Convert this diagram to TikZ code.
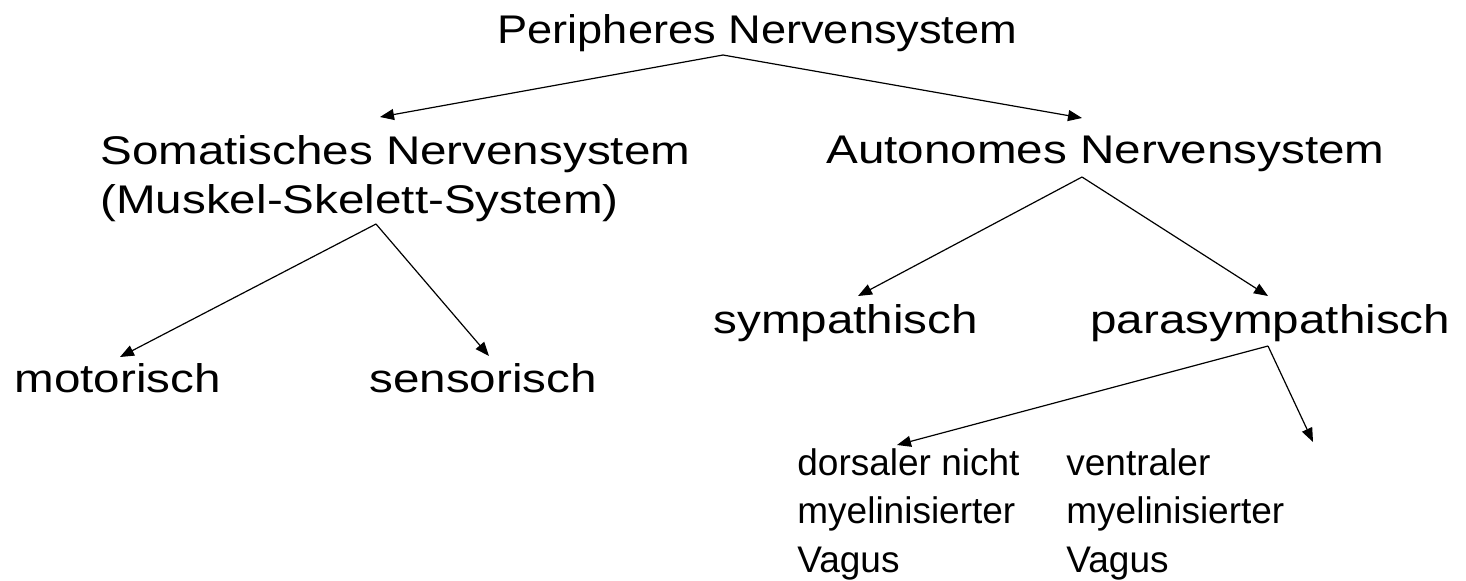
\documentclass[tikz,border=0pt]{standalone}
\usepackage{fontspec}
\setmainfont[FakeStretch=1.19]{Liberation Sans}
\newfontfamily\topfont[FakeStretch=1.13]{Liberation Sans}
\newfontfamily\vagusfont{Liberation Sans}
\usetikzlibrary{arrows.meta}

\begin{document}
\begin{tikzpicture}[x=0.5pt, y=-0.5pt,
  term/.style={anchor=base west, inner sep=0, align=left, font=\fontsize{20}{24.5}\selectfont},
  link/.style={-{Triangle[length=7pt, width=5.5pt]}, line width=0.6pt}]
\useasboundingbox (0, 0) rectangle (1466, 580);

\node [term, font=\topfont\fontsize{20}{24.5}\selectfont] (pns) at (497, 43) {Peripheres Nervensystem};

\node [term] (soma) at (100, 213) {Somatisches Nervensystem\\(Muskel-Skelett-System)};
\node [term] (auto) at (826, 163) {Autonomes Nervensystem};

\node [term] (motor) at (14, 392) {motorisch};
\node [term] (sensor) at (369, 392) {sensorisch};

\node [term] (symp) at (713, 333) {sympathisch};
\node [term] (para) at (1090, 333) {parasympathisch};

\node [term, font=\vagusfont\fontsize{18.5}{24.25}\selectfont] (dorsal) at (797, 572) {dorsaler nicht\\myelinisierter\\Vagus};
\node [term, font=\vagusfont\fontsize{18.5}{24.25}\selectfont] (ventral) at (1066, 572) {ventraler\\myelinisierter\\Vagus};

\draw [link] ([xshift=113pt, yshift=-6pt]pns.base west) -- ([xshift=140pt, yshift=48pt]soma.base west);
\draw [link] ([xshift=113pt, yshift=-6pt]pns.base west) -- ([xshift=128pt, yshift=22.5pt]auto.base west);

\draw [link] ([xshift=138pt, yshift=-5.5pt]soma.base west) -- ([xshift=53pt, yshift=17.5pt]motor.base west);
\draw [link] ([xshift=138pt, yshift=-5.5pt]soma.base west) -- ([xshift=60pt, yshift=18pt]sensor.base west);

\draw [link] ([xshift=128pt, yshift=-7pt]auto.base west) -- ([xshift=72.5pt, yshift=18.5pt]symp.base west);
\draw [link] ([xshift=128pt, yshift=-7pt]auto.base west) -- ([xshift=89pt, yshift=18.5pt]para.base west);

\draw [link] ([xshift=89pt, yshift=-6.5pt]para.base west) -- ([xshift=50pt, yshift=63.5pt]dorsal.base west);
\draw [link] ([xshift=89pt, yshift=-6.5pt]para.base west) -- ([xshift=123.5pt, yshift=65pt]ventral.base west);
\end{tikzpicture}
\end{document}
